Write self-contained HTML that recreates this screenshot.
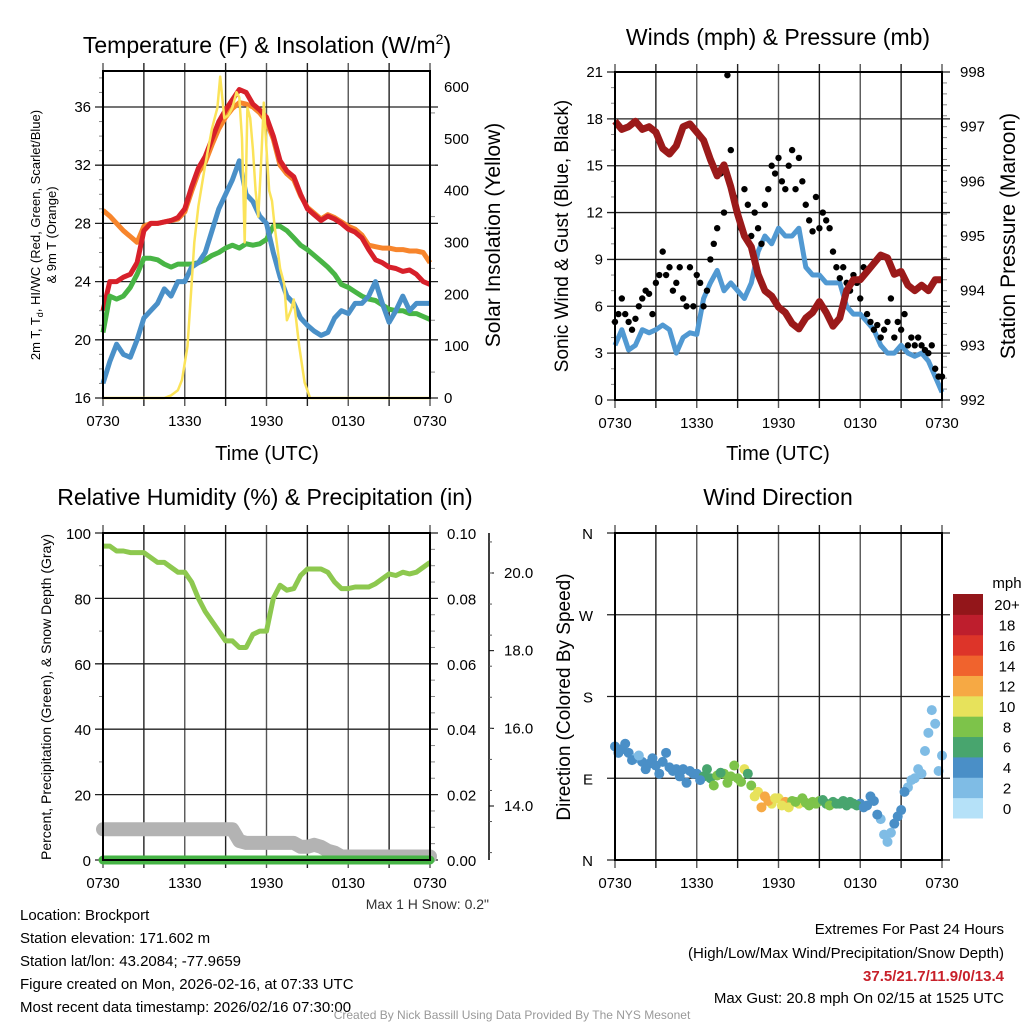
<!DOCTYPE html>
<html><head><meta charset="utf-8">
<style>
html,body{margin:0;padding:0;background:#fff;}
svg{display:block;font-family:"Liberation Sans",sans-serif;}
</style></head>
<body>
<svg id="fig" width="1024" height="1024" viewBox="0 0 1024 1024" xmlns="http://www.w3.org/2000/svg">
<rect width="1024" height="1024" fill="#fff"/>
<text x="267" y="53" font-size="23" text-anchor="middle">Temperature (F) &amp; Insolation (W/m<tspan dy="-9" font-size="14">2</tspan><tspan dy="9">)</tspan></text>
<text x="778" y="45" font-size="23" text-anchor="middle">Winds (mph) &amp; Pressure (mb)</text>
<text x="265" y="505" font-size="23" text-anchor="middle">Relative Humidity (%) &amp; Precipitation (in)</text>
<text x="778" y="505" font-size="23" text-anchor="middle">Wind Direction</text>
<g font-size="15">
<text x="20" y="920">Location: Brockport</text>
<text x="20" y="943">Station elevation: 171.602 m</text>
<text x="20" y="966">Station lat/lon: 43.2084; -77.9659</text>
<text x="20" y="989">Figure created on Mon, 2026-02-16, at 07:33 UTC</text>
<text x="20" y="1012">Most recent data timestamp: 2026/02/16 07:30:00</text>
</g>
<g font-size="15" text-anchor="end">
<text x="1004" y="934">Extremes For Past 24 Hours</text>
<text x="1004" y="958">(High/Low/Max Wind/Precipitation/Snow Depth)</text>
<text x="1004" y="981" fill="#c8202a" font-weight="bold">37.5/21.7/11.9/0/13.4</text>
<text x="1004" y="1003">Max Gust: 20.8 mph On 02/15 at 1525 UTC</text>
</g>
<text x="489" y="909" font-size="14" text-anchor="end" fill="#333">Max 1 H Snow: 0.2"</text>
<text x="512" y="1019" font-size="12" text-anchor="middle" fill="#999">Created By Nick Bassill Using Data Provided By The NYS Mesonet</text>
</svg>
<script>
// ---------- data ----------
const hours = [0,0.5,1,1.5,2,2.5,3,3.5,4,4.5,5,5.5,6,6.5,7,7.5,8,8.5,9,9.5,10,10.5,11,11.5,12,12.5,13,13.5,14,14.5,15,15.5,16,16.5,17,17.5,18,18.5,19,19.5,20,20.5,21,21.5,22,22.5,23,23.5,24];
const hoursMid = [0.25,0.75,1.25,1.75,2.25,2.75,3.25,3.75,4.25,4.75,5.25,5.75,6.25,6.75,7.25,7.75,8.25,8.75,9.25,9.75,10.25,10.75,11.25,11.75,12.25,12.75,13.25,13.75,14.25,14.75,15.25,15.75,16.25,16.75,17.25,17.75,18.25,18.75,19.25,19.75,20.25,20.75,21.25,21.75,22.25,22.75,23.25,23.75];
const timeTickLabels = ["0730","1330","1930","0130","0730"];
const tempTicks = [16,20,24,28,32,36];
const solarTicks = [0,100,200,300,400,500,600];
const windTicks = [0,3,6,9,12,15,18,21];
const presTicks = [992,993,994,995,996,997,998];
const rhTicks = [0,20,40,60,80,100];
const precipTickLabels = ["0.00","0.02","0.04","0.06","0.08","0.10"];
const snowTicks = [14,16,18,20];
const dirTickLabels = ["N","E","S","W","N"];
const speedBinLabels = ["0","2","4","6","8","10","12","14","16","18","20+"];

const temp2m = [22,24,24,24.3,24.5,25.3,27.5,28,28,28.1,28.2,28.4,29,30.5,31.8,32.6,33.8,35,35.8,36.5,37.2,37,36.2,35.8,35.3,34,32.3,31.6,31.2,30,29,28.6,28.2,28.5,28.3,28,27.6,27.4,27,26.2,25.5,25.3,25,24.9,24.7,24.8,24.5,24,23.8];
const temp9m = [28.9,28.5,28,27.5,27.1,26.7,27.8,28,28,28.1,28.2,28.3,28.8,30.2,31.5,32.2,33.4,34.5,35.3,35.9,36.3,36.2,36,35.6,35,33.8,32,31.4,31,29.9,29.1,28.7,28.3,28.6,28.4,28.1,27.8,27.6,27.2,26.5,26.4,26.3,26.3,26.2,26.2,26.1,26.1,26,25.3];
const dewpoint = [20.5,23,22.8,23,23.6,24.5,25.6,25.6,25.5,25.2,25,25.2,25.2,25.2,25.3,25.5,25.8,26,26.3,26.5,26.3,26.6,26.5,26.6,26.9,27.8,27.8,27.5,27,26.5,26.2,25.8,25.4,25,24.5,23.8,23.6,23.3,23,22.8,22.7,22.4,22.1,22,22,21.8,21.8,21.6,21.4];
const windChill = [17,18.5,19.7,19,18.8,20,21.5,22,22.5,23.5,23,24,24,25,25.3,26,27.5,29,30,31,32.3,30,29.5,28.5,28,26,24.3,23,22.5,21.5,21,20.6,20.3,20.5,21.5,22,21.8,22.5,22.5,23,24,22.5,21.2,22,23,22,22.5,22.5,22.5];
const solarTimes = [0,4.5,5,5.5,5.8,6.2,6.5,6.7,7,7.5,8,8.4,8.6,8.9,9.2,9.5,9.8,10,10.2,10.4,10.6,10.8,11,11.2,11.4,11.6,11.8,12,12.2,12.4,12.6,13,13.3,13.5,13.8,14,14.4,14.8,15.2,24];
const solarValues = [0,0,5,15,35,100,220,300,370,450,520,560,620,540,545,560,590,580,500,300,560,540,480,400,350,450,570,480,400,380,330,250,220,150,170,190,100,30,0,0];

const windSpeed = [3.5,4.5,3.2,3.5,4.5,4.3,4.5,4.8,4.5,3,4,4.3,4.2,6.5,7.5,8.3,7,7.5,7,6.5,7.5,9.5,10.5,10,11,10.5,10.5,11,8.5,8,8,7.5,7.5,7.5,6,5.5,5.5,5,4.5,3.5,3,3,3.5,3,2.8,3,2.5,1.5,0.5];
const pressure = [997.1,996.95,997,997.1,996.95,997,996.9,996.6,996.5,996.65,997,997.05,996.9,996.75,996.4,996.1,996.3,995.9,995.4,995,994.8,994.3,994,993.9,993.7,993.6,993.4,993.3,993.5,993.6,993.8,993.6,993.35,993.5,994,994.2,994.2,994.35,994.5,994.65,994.6,994.3,994.35,994.1,994,994.1,994,994.2,994.2];
const gustValues = [5,5.5,6.5,5.5,5,4.5,5.2,6,6.5,7,6.8,5.5,7.5,8,9.5,8,8.5,7,7.5,8.5,6.5,6,8.5,6,8,7.5,6,7,9,10,11,14.5,12,20.8,16,13,12,11,13.5,12.5,10.5,12,11,10,12.5,13.5,15,14.5,15.5,14,13.5,15,16,13.5,15.5,14,12.5,11.5,10.8,13,11,12,11.5,11,9.5,8.5,7.8,8.5,7.5,7,8,7.5,6.5,8.5,5.5,5,4.5,4.8,4,4.5,5,6.5,4,5,4.5,5.5,3.5,4,3.5,4,3.5,3.2,3,3.5,2,1.5,1.5];

const rh = [96,96,94.5,94.5,94,94,94,92.5,91,91,89.5,88,88,85,80,76,73,70,67,67,65,65,69,70,70,80,84,82.5,83,87,89,89,89,88,85,83,83,83.5,83.5,83.5,84.5,86,87.5,87,88,87.5,88,89.5,91];
const precip = [0,0,0,0,0,0,0,0,0,0,0,0,0,0,0,0,0,0,0,0,0,0,0,0,0,0,0,0,0,0,0,0,0,0,0,0,0,0,0,0,0,0,0,0,0,0,0,0,0];
const snowDepth = [13.4,13.4,13.4,13.4,13.4,13.4,13.4,13.4,13.4,13.4,13.4,13.4,13.4,13.4,13.4,13.4,13.4,13.4,13.4,13.4,13.1,13.05,13.05,13.05,13.05,13.05,13.05,13.05,13.05,12.95,12.95,13,12.95,12.85,12.8,12.7,12.7,12.7,12.7,12.7,12.7,12.7,12.7,12.7,12.7,12.7,12.7,12.7,12.7];

const windDir = [125,122,118,112,108,106,104,108,102,100,100,98,95,92,90,93,95,92,90,100,82,75,70,62,68,64,65,62,63,64,65,62,64,62,60,62,62,60,65,45,20,40,55,80,90,95,140,150,115];
const dirSpeed = [3.5,4,3.5,2.5,4,4,4.5,4,4,3.5,4,4,4.5,6,6.5,7,7.5,8,7,10,7,10,12,10,9,11,8,9,7,8,7,6,6,5,6,5,4,4,3,2.5,2,4,3,2.5,2,2,1,2,1];
const windDirMid = [118,128,110,115,100,112,95,118,98,92,85,95,88,100,82,96,85,104,86,95,70,58,65,68,60,58,64,68,60,62,66,60,62,65,64,60,58,70,50,28,30,48,75,88,100,120,165,98];
const dirSpeedMid = [4,3,4,2.5,4,3.5,4,4,4,3.5,4,4,4,5.5,7,6,8,7.5,8,6,9,11,12,10,10,9,8,8,8,7,6,7,6,6,5,6,4,4,3,2.5,2.5,3,3,2.5,2,2.5,1,1.5];
const binColors = ["#b5e1f8","#7fbce5","#4a8fc7","#48a56e","#7dc34a","#e7e25b","#f6a944","#f0632d","#dd3429","#be1e2d","#93161a"];

// ---------- helpers ----------
const NS="http://www.w3.org/2000/svg";
const svg=document.getElementById('fig');
const TICK=15;
function mk(tag,attrs,parent){const e=document.createElementNS(NS,tag);for(const k in attrs)e.setAttribute(k,attrs[k]);(parent||svg).appendChild(e);return e;}
function lin(d0,d1,r0,r1){return v=>r0+(v-d0)*(r1-r0)/(d1-d0);}
function pathFrom(xs,ys,fx,fy){return xs.map((t,i)=>(i?'L':'M')+fx(t).toFixed(1)+','+fy(ys[i]).toFixed(1)).join('');}

function frame(L,R,T,B,name){
  const g=mk('g',{});
  
  
  const fx=lin(0,24,L,R);
  for(let h=0;h<=24;h+=3){
    const ln=mk('line',{x1:fx(h),x2:fx(h),y1:T-8,y2:B+8,stroke:h%6===0?'#555':'#222','stroke-width':1.4},g);
    
    
  }
  timeTickLabels.forEach((lab,i)=>{
    const t=mk('text',{x:fx(i*6),y:B+28,'font-size':TICK,'text-anchor':'middle'});
    t.textContent=lab;
    
    
  });
  return fx;
}
function hgrid(L,R,y,g){const l=mk('line',{x1:L-8,x2:R+8,y1:y,y2:y,stroke:'#222','stroke-width':1.3},g);}
function border(L,R,T,B){const r=mk('rect',{x:L,y:T,width:R-L,height:B-T,fill:'none',stroke:'#000','stroke-width':2});}
function label(x,y,txt,anchor,size,name,rot){const t=mk('text',{x:x,y:y,'font-size':size||TICK,'text-anchor':anchor||'middle'});if(rot)t.setAttribute('transform','rotate(-90 '+x+' '+y+')');t.textContent=txt;return t;}

// ---------- Panel 1: temperature ----------
(function(){
  const L=103,R=430,T=71,B=398;
  const fx=frame(L,R,T,B,'temp');
  const fy=lin(16,36,398,107), fs=lin(0,600,398,87);
  tempTicks.forEach(v=>{hgrid(L,R,fy(v));label(L-12,fy(v)+5,String(v),'end',TICK,'temp-y-tick-label');});
  solarTicks.forEach(v=>{label(R+14,fs(v)+5,String(v),'start',TICK,'solar-y-tick-label');});
  for(let v=17;v<38.5;v++){if(v%4)mk('line',{x1:L-4,x2:L,y1:fy(v),y2:fy(v),stroke:'#888'});}
  for(let v=50;v<=625;v+=50){if(v%100)mk('line',{x1:R,x2:R+5,y1:fs(v),y2:fs(v),stroke:'#888'});}
  const series=[[temp9m,'#f7852c','temp-9m-line'],[temp2m,'#d7202a','temp-2m-line'],[dewpoint,'#48b545','dewpoint-line'],[windChill,'#4a90c8','windchill-line']];
  series.forEach(s=>{const p=mk('path',{d:pathFrom(hours,s[0],fx,fy),fill:'none',stroke:s[1],'stroke-width':5,'stroke-linejoin':'round'});});
  const sp=mk('path',{d:pathFrom(solarTimes,solarValues,fx,fs),fill:'none',stroke:'#fbe359','stroke-width':2.5,'stroke-linejoin':'round'});
  
  
  border(L,R,T,B);
  label(267,460,'Time (UTC)','middle',20,'x-axis-title');
  label(500,235,'Solar Insolation (Yellow)','middle',21,'solar-axis-title',true);
  const a=label(40,235,'','middle',13,'temp-axis-title',true);
  a.innerHTML='2m T, T<tspan dy="3" font-size="9">d</tspan><tspan dy="-3">, HI/WC (Red, Green, Scarlet/Blue)</tspan>';
  label(56,235,'& 9m T (Orange)','middle',13,'temp-axis-title-line2',true);
})();

// ---------- Panel 2: wind & pressure ----------
(function(){
  const L=615,R=942,T=72,B=400;
  const fx=frame(L,R,T,B,'wind');
  const fy=lin(0,21,400,72), fp=lin(992,998,400,72);
  windTicks.forEach(v=>{hgrid(L,R,fy(v));label(L-12,fy(v)+5,String(v),'end',TICK,'wind-y-tick-label');});
  presTicks.forEach(v=>{label(R+18,fp(v)+5,String(v),'start',TICK,'pressure-y-tick-label');});
  for(let v=1;v<21;v++){if(v%3)mk('line',{x1:L-4,x2:L,y1:fy(v),y2:fy(v),stroke:'#888'});}
  for(let v=992.2;v<998;v+=0.2){mk('line',{x1:R,x2:R+5,y1:fp(v),y2:fp(v),stroke:'#888'});}
  const w=mk('path',{d:pathFrom(hours,windSpeed,fx,fy),fill:'none',stroke:'#5199d2','stroke-width':5,'stroke-linejoin':'round'});
  
  
  const gg=mk('g',{});
  
  
  gustValues.forEach((v,i)=>{const c=mk('circle',{cx:fx(i*0.25),cy:fy(v),r:3.2,fill:'#000'},gg);});
  const p=mk('path',{d:pathFrom(hours,pressure,fx,fp),fill:'none',stroke:'#9b1a1a','stroke-width':7,'stroke-linejoin':'round'});
  
  
  border(L,R,T,B);
  label(778,460,'Time (UTC)','middle',20,'x-axis-title');
  label(568,236,'Sonic Wind & Gust (Blue, Black)','middle',19,'wind-axis-title',true);
  label(1015,236,'Station Pressure (Maroon)','middle',21,'pressure-axis-title',true);
})();

// ---------- Panel 3: RH & precip ----------
(function(){
  const L=103,R=430,T=533,B=860;
  const fx=frame(L,R,T,B,'rh');
  const fy=lin(0,100,860,533), fsn=lin(14,20,806,573);
  rhTicks.forEach((v,i)=>{hgrid(L,R,fy(v));label(L-12,fy(v)+6,String(v),'end',TICK,'rh-y-tick-label');label(R+17,fy(v)+6,precipTickLabels[i],'start',TICK,'precip-y-tick-label');});
  for(let v=10;v<100;v+=20){mk('line',{x1:L-4,x2:L,y1:fy(v),y2:fy(v),stroke:'#888'});}
  for(let v=5;v<100;v+=5){if(v%20)mk('line',{x1:R,x2:R+5,y1:fy(v),y2:fy(v),stroke:'#888'});}
  const ax=mk('line',{x1:489,x2:489,y1:533,y2:860,stroke:'#000','stroke-width':1.5});
  
  
  snowTicks.forEach(v=>{mk('line',{x1:489,x2:494,y1:fsn(v),y2:fsn(v),stroke:'#000'});label(504,fsn(v)+5,v.toFixed(1),'start',TICK,'snow-y-tick-label');});
  for(let v=12.8;v<21;v+=0.8){mk('line',{x1:489,x2:492,y1:fsn(v),y2:fsn(v),stroke:'#555'});}
  const s=mk('path',{d:pathFrom(hours,snowDepth,fx,fsn),fill:'none',stroke:'#b3b3b3','stroke-width':14,'stroke-linejoin':'round','stroke-linecap':'round'});
  
  
  const fpr=lin(0,0.1,860,533);
  const pr=mk('path',{d:pathFrom(hours,precip,fx,fpr),fill:'none',stroke:'#46b445','stroke-width':9,'stroke-linecap':'round'});
  
  
  const r=mk('path',{d:pathFrom(hours,rh,fx,fy),fill:'none',stroke:'#8dc84f','stroke-width':5,'stroke-linejoin':'round'});
  
  
  border(L,R,T,B);
  label(51,697,'Percent, Precipitation (Green), & Snow Depth (Gray)','middle',14,'rh-axis-title',true);
})();

// ---------- Panel 4: wind direction ----------
(function(){
  const L=615,R=942,T=533,B=860;
  const fx=frame(L,R,T,B,'direction');
  const fy=lin(0,360,860,533);
  dirTickLabels.forEach((lab,i)=>{hgrid(L,R,fy(i*90));label(L-22,fy(i*90)+6,lab,'end',15,'direction-y-tick-label');});
  const g=mk('g',{});
  
  
  function dot(t,d,sp){
    const bin=Math.min(10,Math.round(sp/2));
    const c=mk('circle',{cx:fx(t),cy:fy(d),r:5,fill:binColors[bin]},g);
    
    
  }
  windDir.forEach((d,i)=>dot(hours[i],d,dirSpeed[i]));
  windDirMid.forEach((d,i)=>dot(hoursMid[i],d,dirSpeedMid[i]));
  border(L,R,T,B);
  label(570,697,'Direction (Colored By Speed)','middle',19,'direction-axis-title',true);
  const lg=mk('g',{});
  
  
  const bh=224/11;
  speedBinLabels.forEach((lab,i)=>{
    const y=818-(i+1)*bh;
    const rc=mk('rect',{x:953,y:y,width:30,height:bh+0.5,fill:binColors[i]},lg);
    
    
    label(1007,y+bh/2+6,lab,'middle',15,'colorbar-label');
  });
  label(1007,588,'mph','middle',15,'colorbar-unit');
})();
</script>
</body></html>
